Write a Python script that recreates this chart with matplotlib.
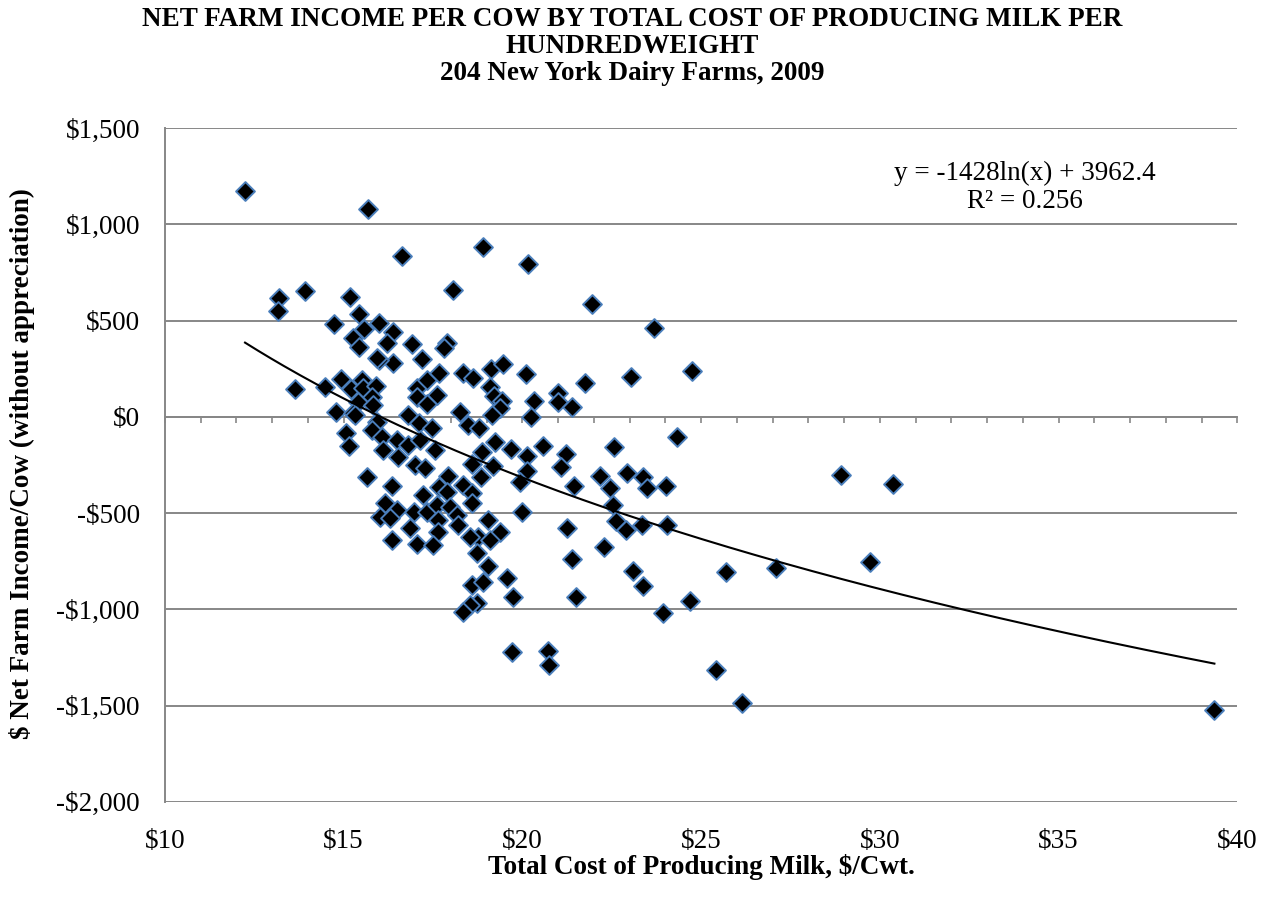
import numpy as np
import matplotlib
matplotlib.use('Agg')
import matplotlib.pyplot as plt
from matplotlib.ticker import FuncFormatter, MultipleLocator

# DATA ($/cwt and $/cow)
cost_per_cwt = [
    12.24, 13.19, 13.16, 13.92, 13.64, 14.48, 14.73, 15.18, 15.43, 15.57,
    15.26, 15.43, 15.68, 14.93, 15.21, 15.51, 15.54, 15.91, 15.79, 15.40,
    14.79, 15.26, 15.93, 15.79, 15.07, 15.15, 16.07, 16.10, 16.49, 16.80,
    17.11, 17.47, 16.80, 16.52, 17.00, 17.28, 17.14, 17.56, 17.05, 17.33,
    17.61, 17.05, 17.33, 17.67, 17.19, 16.38, 15.99, 15.99, 16.38, 16.21,
    16.91, 17.89, 17.81, 16.63, 18.06, 18.34, 18.62, 19.12, 19.46, 20.10,
    19.10, 19.21, 19.43, 19.38, 19.15, 18.26, 18.90, 20.16, 20.33, 21.00,
    21.00, 21.39, 20.24, 21.75, 23.04, 24.75, 21.95, 23.69, 18.48, 18.79,
    24.33, 19.24, 19.68, 18.87, 20.58, 20.13, 21.22, 21.08, 22.57, 18.59,
    19.18, 20.13, 19.94, 18.84, 21.45, 22.17, 22.45, 22.93, 23.38, 23.49,
    24.02, 19.99, 22.54, 22.62, 22.90, 23.35, 24.05, 21.25, 22.29, 21.39,
    23.10, 23.38, 25.70, 27.10, 21.50, 24.69, 23.94, 20.72, 20.75, 25.42,
    26.15, 39.36, 28.92, 30.37, 29.73, 15.32, 15.65, 16.35, 17.92, 17.67,
    17.89, 18.34, 18.59, 17.22, 18.59, 16.16, 16.49, 16.02, 16.30, 16.97,
    17.33, 17.61, 17.98, 18.17, 17.64, 18.20, 19.04, 19.38, 18.76, 18.54,
    19.10, 16.86, 17.64, 16.35, 17.05, 17.50, 18.73, 19.04, 18.59, 18.90,
    19.57, 19.74, 18.73, 18.54, 18.34, 19.71, 15.93, 15.82,
]
income_per_cow = [
    1174, 620, 550, 654, 145, 156, 483, 623, 535, 457,
    410, 364, 1080, 197, 145, 192, 151, 161, 104, 78,
    26, 21, -26, -68, -83, -151, -104, -171, -119, 10,
    -31, -57, -145, -208, -249, -265, -119, -171, 151, 192,
    114, 104, 68, 228, 301, 280, 296, 488, 441, 384,
    379, 384, 358, 836, 660, 228, 203, 249, 275, 223,
    156, 109, 83, 47, 10, 26, 883, 795, 83, 125,
    78, 52, 0, 177, 208, 239, 587, 462, -42, -57,
    -104, -130, -166, -182, -151, -203, -192, -260, -156, -244,
    -254, -280, -338, -312, -358, -306, -369, -291, -312, -369,
    -358, -493, -457, -540, -587, -561, -561, -576, -675, -737,
    -800, -878, -805, -784, -935, -955, -1018, -1215, -1288, -1314,
    -1485, -1522, -301, -348, -753, 10, -312, -358, -306, -364,
    -389, -353, -395, -405, -447, -447, -483, -519, -524, -493,
    -493, -457, -467, -509, -535, -561, -535, -597, -623, -623,
    -639, -576, -597, -639, -660, -665, -706, -774, -872, -857,
    -836, -935, -966, -976, -1013, -1220, 306, 62,
]

# log trendline as printed on the chart
trend_a = -1428
trend_b = 3962.4
r_squared = 0.256

title_text = ('NET FARM INCOME PER COW BY TOTAL COST OF PRODUCING MILK PER\n'
              'HUNDREDWEIGHT\n204 New York Dairy Farms, 2009')
x_ticks = [10, 15, 20, 25, 30, 35, 40]

plt.rcParams['font.family'] = ['Liberation Serif', 'DejaVu Serif']
grid_col = '#878787'
fs = 19.5

def money(v, pos=None):
    if v < 0:
        return '-${:,.0f}'.format(abs(v))
    return '${:,.0f}'.format(v)

fig = plt.figure(figsize=(12.69, 9.09), dpi=100)
ax = fig.add_axes([0.130, 0.118, 0.845, 0.741])

ax.scatter(cost_per_cwt, income_per_cow, marker='D', s=92, c='black',
           edgecolors='#4a7ebb', linewidths=1.4, zorder=3)

xs = np.linspace(min(cost_per_cwt), max(cost_per_cwt), 300)
ax.plot(xs, trend_a * np.log(xs) + trend_b, color='black', lw=1.5, zorder=4)

ax.text(0.802, 0.912,
        'y = {}ln(x) + {}\nR\u00b2 = {}'.format(trend_a, trend_b, r_squared),
        transform=ax.transAxes, ha='center', va='center', fontsize=fs,
        linespacing=1.15)

ax.set_xlim(x_ticks[0], x_ticks[-1])
ax.set_ylim(-2000, 1500)
ax.yaxis.set_major_locator(MultipleLocator(500))
ax.yaxis.set_major_formatter(FuncFormatter(money))
ax.grid(axis='y', color=grid_col, lw=1.4)
ax.set_axisbelow(True)

for s in ['top', 'right']:
    ax.spines[s].set_visible(False)
ax.spines['left'].set_color(grid_col)
ax.spines['left'].set_linewidth(1.4)
ax.spines['bottom'].set_position(('data', 0))
ax.spines['bottom'].set_color(grid_col)
ax.spines['bottom'].set_linewidth(1.4)

ax.tick_params(axis='y', length=0, pad=18, labelsize=fs)
ax.xaxis.set_major_locator(MultipleLocator(5))
ax.xaxis.set_minor_locator(MultipleLocator(1))
ax.tick_params(axis='x', which='both', direction='out', length=4,
               width=1.2, color=grid_col, labelbottom=False)

# tick labels sit low, under the plot area
sec = ax.secondary_xaxis(0.0)
sec.set_xticks(x_ticks)
sec.xaxis.set_major_formatter(FuncFormatter(money))
sec.tick_params(length=0, pad=19.5, labelsize=fs)
sec.spines['bottom'].set_visible(False)

fig.text(0.498, 1 - 7 / 909, title_text, ha='center', va='top',
         fontsize=fs, fontweight='bold', linespacing=1.11)
fig.text(0.553, 0.046, 'Total Cost of Producing Milk, $/Cwt.', ha='center',
         va='center', fontsize=fs, fontweight='bold')
fig.text(0.017, 0.49, '$ Net Farm Income/Cow (without appreciation)',
         ha='center', va='center', rotation=90, fontsize=fs, fontweight='bold')

fig.savefig('out.png', dpi=100)
